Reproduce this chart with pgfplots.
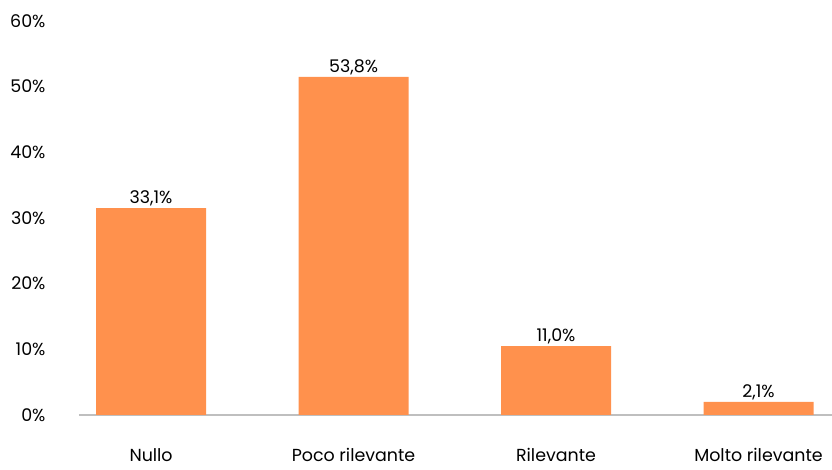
\documentclass[border=0pt]{standalone}
\usepackage{pgfplots}
\pgfplotsset{compat=1.18}
\usepackage{fontspec}
\setmainfont{Poppins}
\definecolor{barorange}{RGB}{255,145,77}
\definecolor{axgray}{RGB}{191,191,191}
\begin{document}
\begin{tikzpicture}[x=1bp,y=1bp]
\begin{axis}[
  at={(0,0)}, anchor=south west,
  scale only axis,
  width=753bp, height=394bp,
  xmin=-0.356, xmax=3.363,
  ymin=0, ymax=60,
  ybar, bar width=110bp,
  axis x line*=bottom,
  axis y line=none,
  x axis line style={draw=axgray, line width=1.2pt},
  xtick={0,1,2,3},
  xticklabels={Nullo,Poco rilevante,Rilevante,Molto rilevante},
  major tick length=0pt,
  x tick label style={font=\fontsize{17.5}{21}\selectfont, yshift=-30bp},
  ytick={0,10,20,30,40,50,60},
  clip=false,
  /pgf/number format/assume math mode=true,
  nodes near coords,
  point meta=explicit symbolic,
  nodes near coords style={font=\fontsize{17.5}{21}\selectfont, text=black, inner sep=2bp},
]
\addplot[fill=barorange, draw=none] table[meta=label] {
x y label
0 31.5 33,1\%
1 51.5 53,8\%
2 10.5 11,0\%
3 2.0 2,1\%
};
\end{axis}
\begin{axis}[
  at={(0,0)}, anchor=south west,
  scale only axis,
  width=753bp, height=394bp,
  xmin=0, xmax=1, ymin=0, ymax=60,
  axis x line=none,
  axis y line*=left,
  y axis line style={draw=none},
  ytick={0,10,20,30,40,50,60},
  major tick length=0pt,
  /pgf/number format/assume math mode=true,
  yticklabel={\pgfmathprintnumber{\tick}\%},
  y tick label style={font=\fontsize{17.5}{21}\selectfont, anchor=east, xshift=-30bp},
]
\end{axis}
\pgfresetboundingbox
\path[use as bounding box] (-79,-55) rectangle (753,415);
\end{tikzpicture}
\end{document}
